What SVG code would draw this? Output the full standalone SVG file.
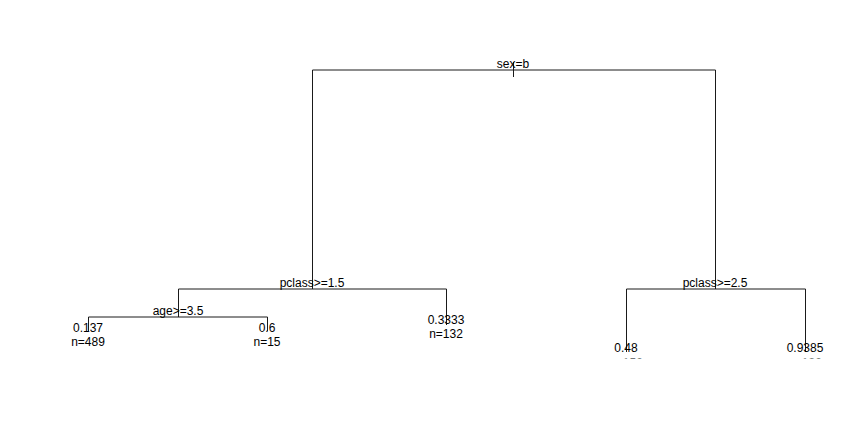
<svg xmlns="http://www.w3.org/2000/svg" width="864" height="432" viewBox="0 0 864 432">
  <defs>
    <style>
      .br { fill: none; stroke: #1a1a1a; stroke-width: 1; }
      .lb { font-family: "Liberation Sans", Arial, sans-serif; font-size: 12px; fill: #000; text-anchor: middle; }
    </style>
    <clipPath id="plotArea">
      <rect x="0" y="0" width="864" height="358.5"/>
    </clipPath>
  </defs>
  <rect width="864" height="432" fill="#fff"/>

  <!-- tree branches -->
  <g id="connectors" class="br" clip-path="url(#plotArea)">
    <path d="M513.5,62 V77"/>
    <path d="M312.5,289 V70 H715.5 V289"/>
    <path d="M178.5,317 V289 H446.5 V325"/>
    <path d="M88.5,331 V317 H267.5 V331"/>
    <path d="M626.5,352 V289 H805.5 V352"/>
  </g>

  <!-- split nodes -->
  <g id="node-root"><text class="lb" x="513" y="68">sex=b</text></g>
  <g id="node-pclass15"><text class="lb" x="312" y="287">pclass&gt;=1.5</text></g>
  <g id="node-age35"><text class="lb" x="178" y="315">age&gt;=3.5</text></g>
  <g id="node-pclass25"><text class="lb" x="715" y="287">pclass&gt;=2.5</text></g>

  <!-- leaves -->
  <g id="leaf-1"><text class="lb" x="88" y="332">0.137</text><text class="lb" x="88" y="346">n=489</text></g>
  <g id="leaf-2"><text class="lb" x="267" y="332">0.6</text><text class="lb" x="267" y="346">n=15</text></g>
  <g id="leaf-3"><text class="lb" x="446" y="324">0.3333</text><text class="lb" x="446" y="338">n=132</text></g>
  <g id="leaf-4" clip-path="url(#plotArea)"><text class="lb" x="626" y="352">0.48</text><text class="lb" x="626" y="367">n=150</text></g>
  <g id="leaf-5" clip-path="url(#plotArea)"><text class="lb" x="805" y="352">0.9385</text><text class="lb" x="805" y="367">n=130</text></g>
</svg>
